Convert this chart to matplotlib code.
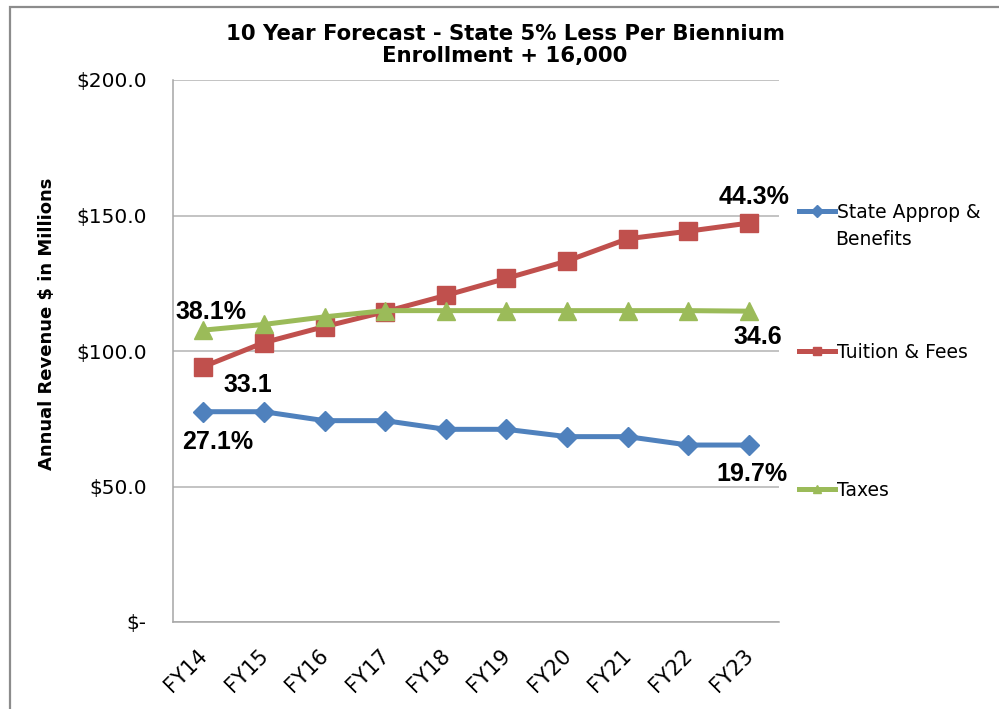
import matplotlib
matplotlib.use('Agg')
import matplotlib.pyplot as plt
from matplotlib.lines import Line2D
from matplotlib.patches import Rectangle
from matplotlib.transforms import ScaledTranslation

# data ($ millions)
years = ['FY14', 'FY15', 'FY16', 'FY17', 'FY18', 'FY19', 'FY20', 'FY21', 'FY22', 'FY23']
state = [77.6, 77.6, 74.3, 74.3, 71.1, 71.1, 68.4, 68.4, 65.3, 65.3]
tuition = [94.2, 103.1, 109.0, 114.5, 120.5, 126.8, 133.2, 141.4, 144.2, 147.2]
taxes = [107.7, 109.8, 112.6, 114.9, 114.9, 114.9, 114.9, 114.9, 114.9, 114.7]
yticks = [0, 50, 100, 150, 200]
ytick_labels = ['$-', '$50.0', '$100.0', '$150.0', '$200.0']

series_names = ['State Approp &', 'Tuition & Fees', 'Taxes']
colors = ['#4F81BD', '#C0504D', '#9BBB59']
markers = ['D', 's', '^']

# share labels at the first and last year: (series index, year index, text, offset px)
share_labels = [
    (2, 0, '38.1%', (8, 18)),
    (1, 0, '33.1', (45, -18)),
    (0, 0, '27.1%', (14, -30)),
    (1, 9, '44.3%', (5, 26)),
    (2, 9, '34.6', (9, -26)),
    (0, 9, '19.7%', (3, -29)),
]

W, H = 999, 709
fig = plt.figure(figsize=(W / 100, H / 100), dpi=100)
ax = fig.add_axes([173 / W, 1 - 622 / H, (779 - 173) / W, (622 - 80) / H])

x = list(range(len(years)))
all_series = [state, tuition, taxes]
msizes = [10, 12.5, 13]
for vals, c, m, ms in zip(all_series, colors, markers, msizes):
    ax.plot(x, vals, color=c, marker=m, markersize=ms, linewidth=3.6,
            markeredgecolor=c, clip_on=False, zorder=3)

for si, xi, txt, off in share_labels:
    ax.annotate(txt, (x[xi], all_series[si][xi]), xytext=off, textcoords='offset pixels',
                ha='center', va='center', fontsize=18, fontweight='bold',
                family='Liberation Sans', color='black', zorder=5)

ax.set_xlim(-0.5, len(years) - 0.5)
ax.set_ylim(0, 200)
ax.set_yticks(yticks)
ax.set_yticklabels(ytick_labels)
ax.set_xticks(x)
ax.set_xticklabels(years, rotation=45, ha='right', va='top', rotation_mode='anchor')
ax.tick_params(axis='y', length=0, pad=19, labelsize=14.5)
ax.tick_params(axis='x', length=0, pad=17, labelsize=15)
shift = ScaledTranslation(-6 / 100, 0, fig.dpi_scale_trans)
for lab in ax.get_xticklabels():
    lab.set_transform(lab.get_transform() + shift)
ax.grid(axis='y', color='#B3B3B3', linewidth=1.1)
ax.set_axisbelow(True)
for s in ['top', 'right']:
    ax.spines[s].set_visible(False)
for s in ['left', 'bottom']:
    ax.spines[s].set_color('#A6A6A6')
    ax.spines[s].set_linewidth(1.1)

fig.text(47 / W, 1 - 324 / H, 'Annual Revenue $ in Millions', rotation=90,
         ha='center', va='center', fontsize=13, fontweight='bold')

fig.text(505 / W, 1 - 34 / H, '10 Year Forecast - State 5% Less Per Biennium',
         ha='center', va='center', fontsize=15.3, fontweight='bold')
fig.text(505 / W, 1 - 56 / H, 'Enrollment + 16,000',
         ha='center', va='center', fontsize=15.3, fontweight='bold')

# legend, one entry per series placed beside the chart
leg_y = [212, 352, 490]
for name, c, m, ly in zip(series_names, colors, markers, leg_y):
    h = Line2D([], [], color=c, marker=m, markersize=6, linewidth=3.6)
    leg = fig.legend([h], [name], loc='center left', bbox_to_anchor=(799 / W, 1 - ly / H),
                     frameon=False, fontsize=13.5, borderpad=0, borderaxespad=0,
                     handlelength=1.9, handletextpad=0.15)
fig.text(835 / W, 1 - 240 / H, 'Benefits', ha='left', va='center', fontsize=13.5)

# chart area border
fig.add_artist(Rectangle((10 / W, -0.1), 1.2, 1 - 7 / H + 0.1, transform=fig.transFigure,
                         fill=False, edgecolor='#8C8C8C', linewidth=1.6))

fig.savefig('out.png', dpi=100)
